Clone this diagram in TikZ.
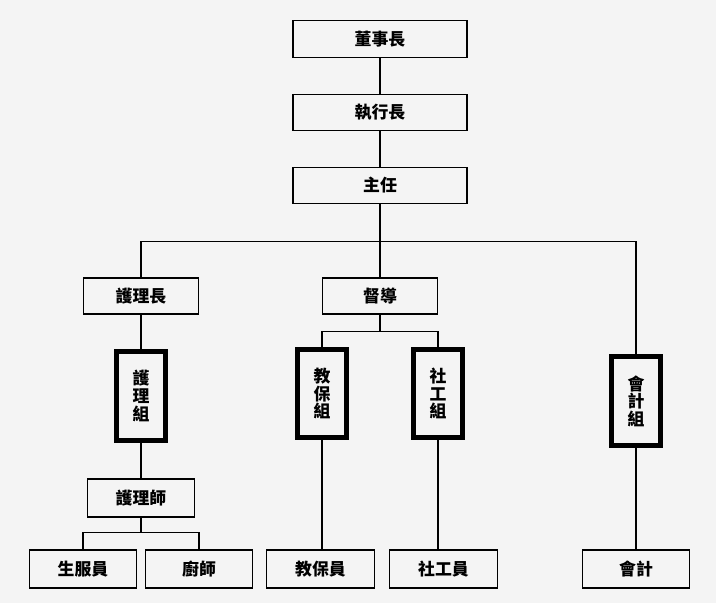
\documentclass[tikz,border=0pt]{standalone}
\usepackage{fontspec}
\newfontfamily\cjk{Noto Sans CJK TC}
\usetikzlibrary{positioning}
\definecolor{paper}{HTML}{F4F4F4}

\begin{document}
\begin{tikzpicture}[x=0.025cm, y=-0.025cm, line width=0.8pt,
  every node/.style={font=\cjk\bfseries\fontsize{12}{12.5}\selectfont, inner sep=0pt},
  head/.style={draw, fill=paper, minimum width=4.35cm, minimum height=0.92cm},
  mid/.style={draw, fill=paper, minimum width=2.87cm, minimum height=0.9cm},
  team/.style={draw, fill=paper, line width=3.5pt, minimum width=1.22cm, minimum height=2.22cm, align=center},
  staff/.style={draw, fill=paper, minimum width=2.68cm, minimum height=0.95cm}]
\fill[paper] (0,0) rectangle (716,603);

\node (chair) at (380,39) [head] {董事長};
\node (ceo) at (380,112.5) [head] {執行長};
\node (dir) at (380,185.5) [head] {主任};

\node (hnurse) at (141,296) [mid] {護理長};
\node (super) at (380,296) [mid] {督導};

\node (ngrp) at (141,396) [team] {護\\理\\組};
\node (egrp) at (322,393.5) [team] {教\\保\\組};
\node (sgrp) at (438,393.5) [team] {社\\工\\組};
\node (agrp) at (636,401) [team] {會\\計\\組};

\node (nurse) at (141,498) [staff] {護理師};

\foreach \n/\x/\t in {svc/83/生服員, cook/199/廚師, edu/320.5/教保員, soc/443.5/社工員, acc/636/會計} {
\node (\n) at (\x,569) [staff] {\t};
}

\draw (chair) -- (ceo) -- (dir);
\draw (dir.south) -- ++(0,37) coordinate (bus) -- (super);
\draw (hnurse.north) -- (hnurse.north |- bus) -- (agrp.north |- bus) -- (agrp.north);
\draw (hnurse) -- (ngrp) -- (nurse);

\draw (super.south) -- ++(0,17) coordinate (sb);
\draw (egrp.north) |- (sb) -| (sgrp.north);

\draw (nurse.south) -- ++(0,15) coordinate (nb);
\draw (svc.north) |- (nb) -| (cook.north);

\draw (egrp.south) -- (egrp.south |- edu.north);
\draw (sgrp.south) -- (sgrp.south |- soc.north);
\draw (agrp) -- (acc);

\end{tikzpicture}
\end{document}
